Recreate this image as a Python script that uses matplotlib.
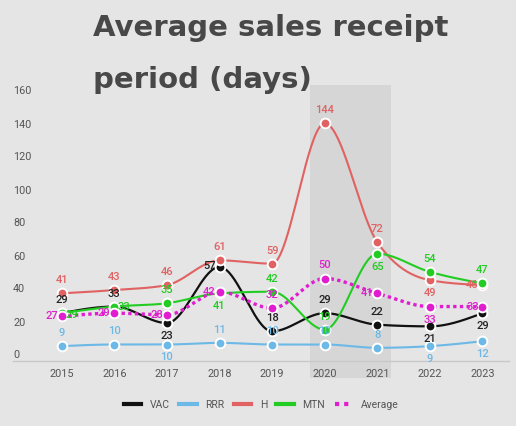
import numpy as np
import matplotlib
matplotlib.use('Agg')
import matplotlib.pyplot as plt
import matplotlib.transforms as mtransforms
from matplotlib.patches import Rectangle
from matplotlib.lines import Line2D

# ---------------- data ----------------
years = ['2015', '2016', '2017', '2018', '2019', '2020', '2021', '2022', '2023']
vac = [29, 33, 23, 57, 18, 29, 22, 21, 29]
rrr = [9, 10, 10, 11, 10, 10, 8, 9, 12]
h_vals = [41, 43, 46, 61, 59, 144, 72, 49, 46]
mtn = [29, 33, 35, 41, 42, 19, 65, 54, 47]
average = [27, 29, 28, 42, 32, 50, 41, 33, 33]
series_names = ['VAC', 'RRR', 'H', 'MTN', 'Average']
y_ticks = [0, 20, 40, 60, 80, 100, 120, 140, 160]
highlight = ('2020', '2021')
title_lines = ['Average sales receipt', 'period (days)']

# ---------------- styles ----------------
BG = '#e5e5e5'
styles = {
    'VAC': dict(color='#111111', lc='#222222', ls='-', lw=1.6),
    'RRR': dict(color='#6cb8e6', lc='#6cb8e6', ls='-', lw=1.5),
    'H': dict(color='#e06262', lc='#e06262', ls='-', lw=1.5),
    'MTN': dict(color='#22cc22', lc='#22cc22', ls='-', lw=1.5),
    'Average': dict(color='#e01ed0', lc='#dd22cc', ls=(0, (1, 1)), lw=2.4),
}
# label offsets in image pixels (dx, dy; dy positive = downwards)
U, D, L, R = (0, -13), (0, 13), (-10, 0), (10, 0)
label_pos = {
    'VAC': [U, U, D, (-10, -1), U, U, U, D, D],
    'RRR': [U, U, D, U, U, U, U, D, D],
    'H': [U, U, U, U, U, U, U, D, L],
    'MTN': [(10, 2), R, U, D, U, U, D, U, U],
    'Average': [L, L, L, L, U, U, L, D, L],
}


def monotone(x, y, n=40):
    x = np.asarray(x, float)
    y = np.asarray(y, float)
    hh = np.diff(x)
    d = np.diff(y) / hh
    m = np.zeros_like(y)
    for i in range(1, len(y) - 1):
        s0, s1 = d[i - 1], d[i]
        p = (s0 * hh[i] + s1 * hh[i - 1]) / (hh[i - 1] + hh[i])
        sg = (1 if s0 >= 0 else -1) + (1 if s1 >= 0 else -1)
        m[i] = sg * min(abs(s0), abs(s1), 0.5 * abs(p))
    m[0] = (3 * d[0] - m[1]) / 2
    m[-1] = (3 * d[-1] - m[-2]) / 2
    xs, ys = [], []
    for i in range(len(y) - 1):
        t = np.linspace(0, 1, n)
        h00 = 2 * t**3 - 3 * t**2 + 1
        h10 = t**3 - 2 * t**2 + t
        h01 = -2 * t**3 + 3 * t**2
        h11 = t**3 - t**2
        xs.append(x[i] + t * hh[i])
        ys.append(h00 * y[i] + h10 * hh[i] * m[i] + h01 * y[i + 1] + h11 * hh[i] * m[i + 1])
    return np.concatenate(xs), np.concatenate(ys)


plt.rcParams['font.family'] = ['Roboto', 'DejaVu Sans']

W, H = 516, 426
fig = plt.figure(figsize=(W / 100, H / 100), dpi=100, facecolor=BG)
ax = fig.add_axes([13 / W, (H - 361) / H, (509 - 13) / W, 264 / H])
ax.set_facecolor(BG)

x = np.arange(len(years))
ax.set_xlim(-0.926, 8.504)
ax.set_ylim(0, 160)

# highlight band
i0, i1 = years.index(highlight[0]), years.index(highlight[1])
trans = mtransforms.blended_transform_factory(ax.transData, ax.transAxes)
ax.add_patch(Rectangle((i0 - 0.28, -0.064), (i1 - i0) + 0.54, 1.109, transform=trans,
                       facecolor='#d6d6d6', edgecolor='none', zorder=0, clip_on=False))

data = {'VAC': vac, 'RRR': rrr, 'H': h_vals, 'MTN': mtn, 'Average': average}
handles = []
for k, name in enumerate(series_names):
    st = styles[name]
    vals = data[name]
    xs, ys = monotone(x, vals)
    ax.plot(xs, ys, color=st['color'], lw=st['lw'], ls=st['ls'],
            zorder=2 + k, solid_capstyle='round', dash_capstyle='butt', clip_on=False)
    ax.plot(x, vals, 'o', color=st['color'], ms=7, mec='white', mew=1.4,
            zorder=2.5 + k, clip_on=False)
    for i, v in enumerate(vals):
        dx, dy = label_pos[name][i]
        ax.annotate(str(v), (x[i], v), xytext=(dx, -dy), textcoords='offset pixels',
                    ha='center', va='center', fontsize=8, color=st['lc'],
                    fontweight='medium', zorder=10 + k)
    handles.append(Line2D([0], [0], color=st['color'], lw=3,
                          ls='-' if name != 'Average' else (0, (1, 1.2))))

for s in ['left', 'right', 'top']:
    ax.spines[s].set_visible(False)
ax.spines['bottom'].set_color('#c8c8c8')
ax.spines['bottom'].set_linewidth(1)

ax.set_xticks(x)
ax.set_xticklabels(years)
ax.tick_params(axis='x', length=0, pad=6, labelsize=7.8, labelcolor='#555555')
ax.set_yticks(y_ticks)
ax.set_yticklabels([str(t) for t in y_ticks])
ax.tick_params(axis='y', length=0, pad=0, labelsize=7.8, labelcolor='#555555')
for lab in ax.get_yticklabels():
    lab.set_horizontalalignment('left')
    lab.set_verticalalignment('bottom')
    lab.set_transform(lab.get_transform() + mtransforms.ScaledTranslation(0, 0.5 / 100, fig.dpi_scale_trans))

# title
for j, line in enumerate(title_lines):
    fig.text(93 / W, (H - (36 + 52 * j)) / H, line, fontsize=21, fontweight='bold',
             color='#484848', family=['DejaVu Sans'], va='baseline', ha='left')

fig.legend(handles, series_names, loc='center', bbox_to_anchor=(261 / W, 1 - 405 / H),
           ncol=5, frameon=False, fontsize=7.5, handlelength=1.7, handletextpad=0.8,
           columnspacing=0.9, labelcolor='#555555')

fig.savefig('out.png', dpi=100, facecolor=BG)
